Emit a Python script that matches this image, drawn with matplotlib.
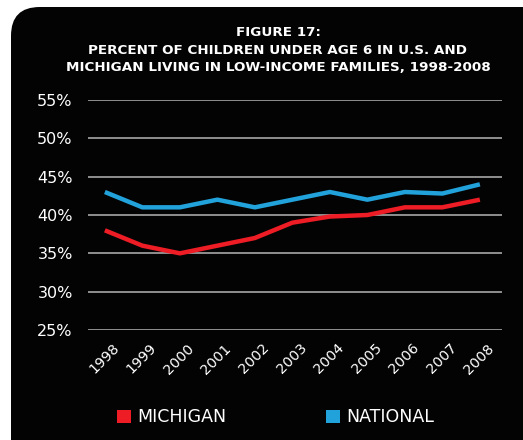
import matplotlib
matplotlib.use("Agg")
import matplotlib.pyplot as plt
import matplotlib.transforms as mtransforms
from matplotlib.patches import FancyBboxPatch, Rectangle

years = [1998, 1999, 2000, 2001, 2002, 2003, 2004, 2005, 2006, 2007, 2008]
michigan = [38, 36, 35, 36, 37, 39, 39.8, 40, 41, 41, 42]
national = [43, 41, 41, 42, 41, 42, 43, 42, 43, 42.8, 44]
yticks = [25, 30, 35, 40, 45, 50, 55]
title = "FIGURE 17:\nPERCENT OF CHILDREN UNDER AGE 6 IN U.S. AND\nMICHIGAN LIVING IN LOW-INCOME FAMILIES, 1998-2008"

RED = "#ee1c25"
BLUE = "#22a2db"
W, H = 523, 440

fig = plt.figure(figsize=(W / 100, H / 100), dpi=100, facecolor="white")
plt.rcParams['font.family'] = ['DejaVu Sans']

# black rounded card behind everything
card = FancyBboxPatch((11 / W, -30 / H), (560 - 11) / W, (H - 7 + 30) / H,
                      boxstyle="round,pad=0,rounding_size=0.055",
                      transform=fig.transFigure, facecolor="#030303",
                      edgecolor="none", mutation_aspect=W / H, zorder=-10)
fig.patches.append(card)

fig.text(278 / W, 1 - 50 / H, title, color="white", fontsize=9.7,
         fontweight="bold", ha="center", va="center", linespacing=1.45)

ax = fig.add_axes([88 / W, 1 - 330 / H, (502 - 88) / W, (330 - 100) / H])
ax.set_facecolor("none")
for s in ax.spines.values():
    s.set_visible(False)

for v in yticks:
    ax.axhline(v, color="#b5b5b5", lw=1.1, zorder=1)

ax.plot(years, national, color=BLUE, lw=3.2, solid_capstyle="butt", zorder=3)
ax.plot(years, michigan, color=RED, lw=3.2, solid_capstyle="butt", zorder=3)

ax.set_ylim(25, 55)
ax.set_xlim(1997.55, 2008.59)
ax.set_yticks(yticks)
ax.set_yticklabels([f"{v}%" for v in yticks], color="white", fontsize=11.5)
ax.tick_params(axis="y", length=0, pad=11)
ax.set_xticks(years)
ax.set_xticklabels([str(y) for y in years], color="white", fontsize=10.3,
                   rotation=45, ha="right", va="center", rotation_mode="anchor")
ax.tick_params(axis="x", length=0, pad=0)
off = mtransforms.ScaledTranslation(12 / 100, -16 / 100, fig.dpi_scale_trans)
for lab in ax.get_xticklabels():
    lab.set_transform(lab.get_transform() + off)

# legend
for x0, col, name in [(117, RED, "MICHIGAN"), (326, BLUE, "NATIONAL")]:
    fig.patches.append(Rectangle((x0 / W, 1 - 423 / H), 14 / W, 13 / H,
                                 transform=fig.transFigure, facecolor=col,
                                 edgecolor="none"))
    fig.text((x0 + 20) / W, 1 - 416.5 / H, name, color="white", fontsize=12.5,
             ha="left", va="center")

fig.savefig("out.png", dpi=100, facecolor="white")
